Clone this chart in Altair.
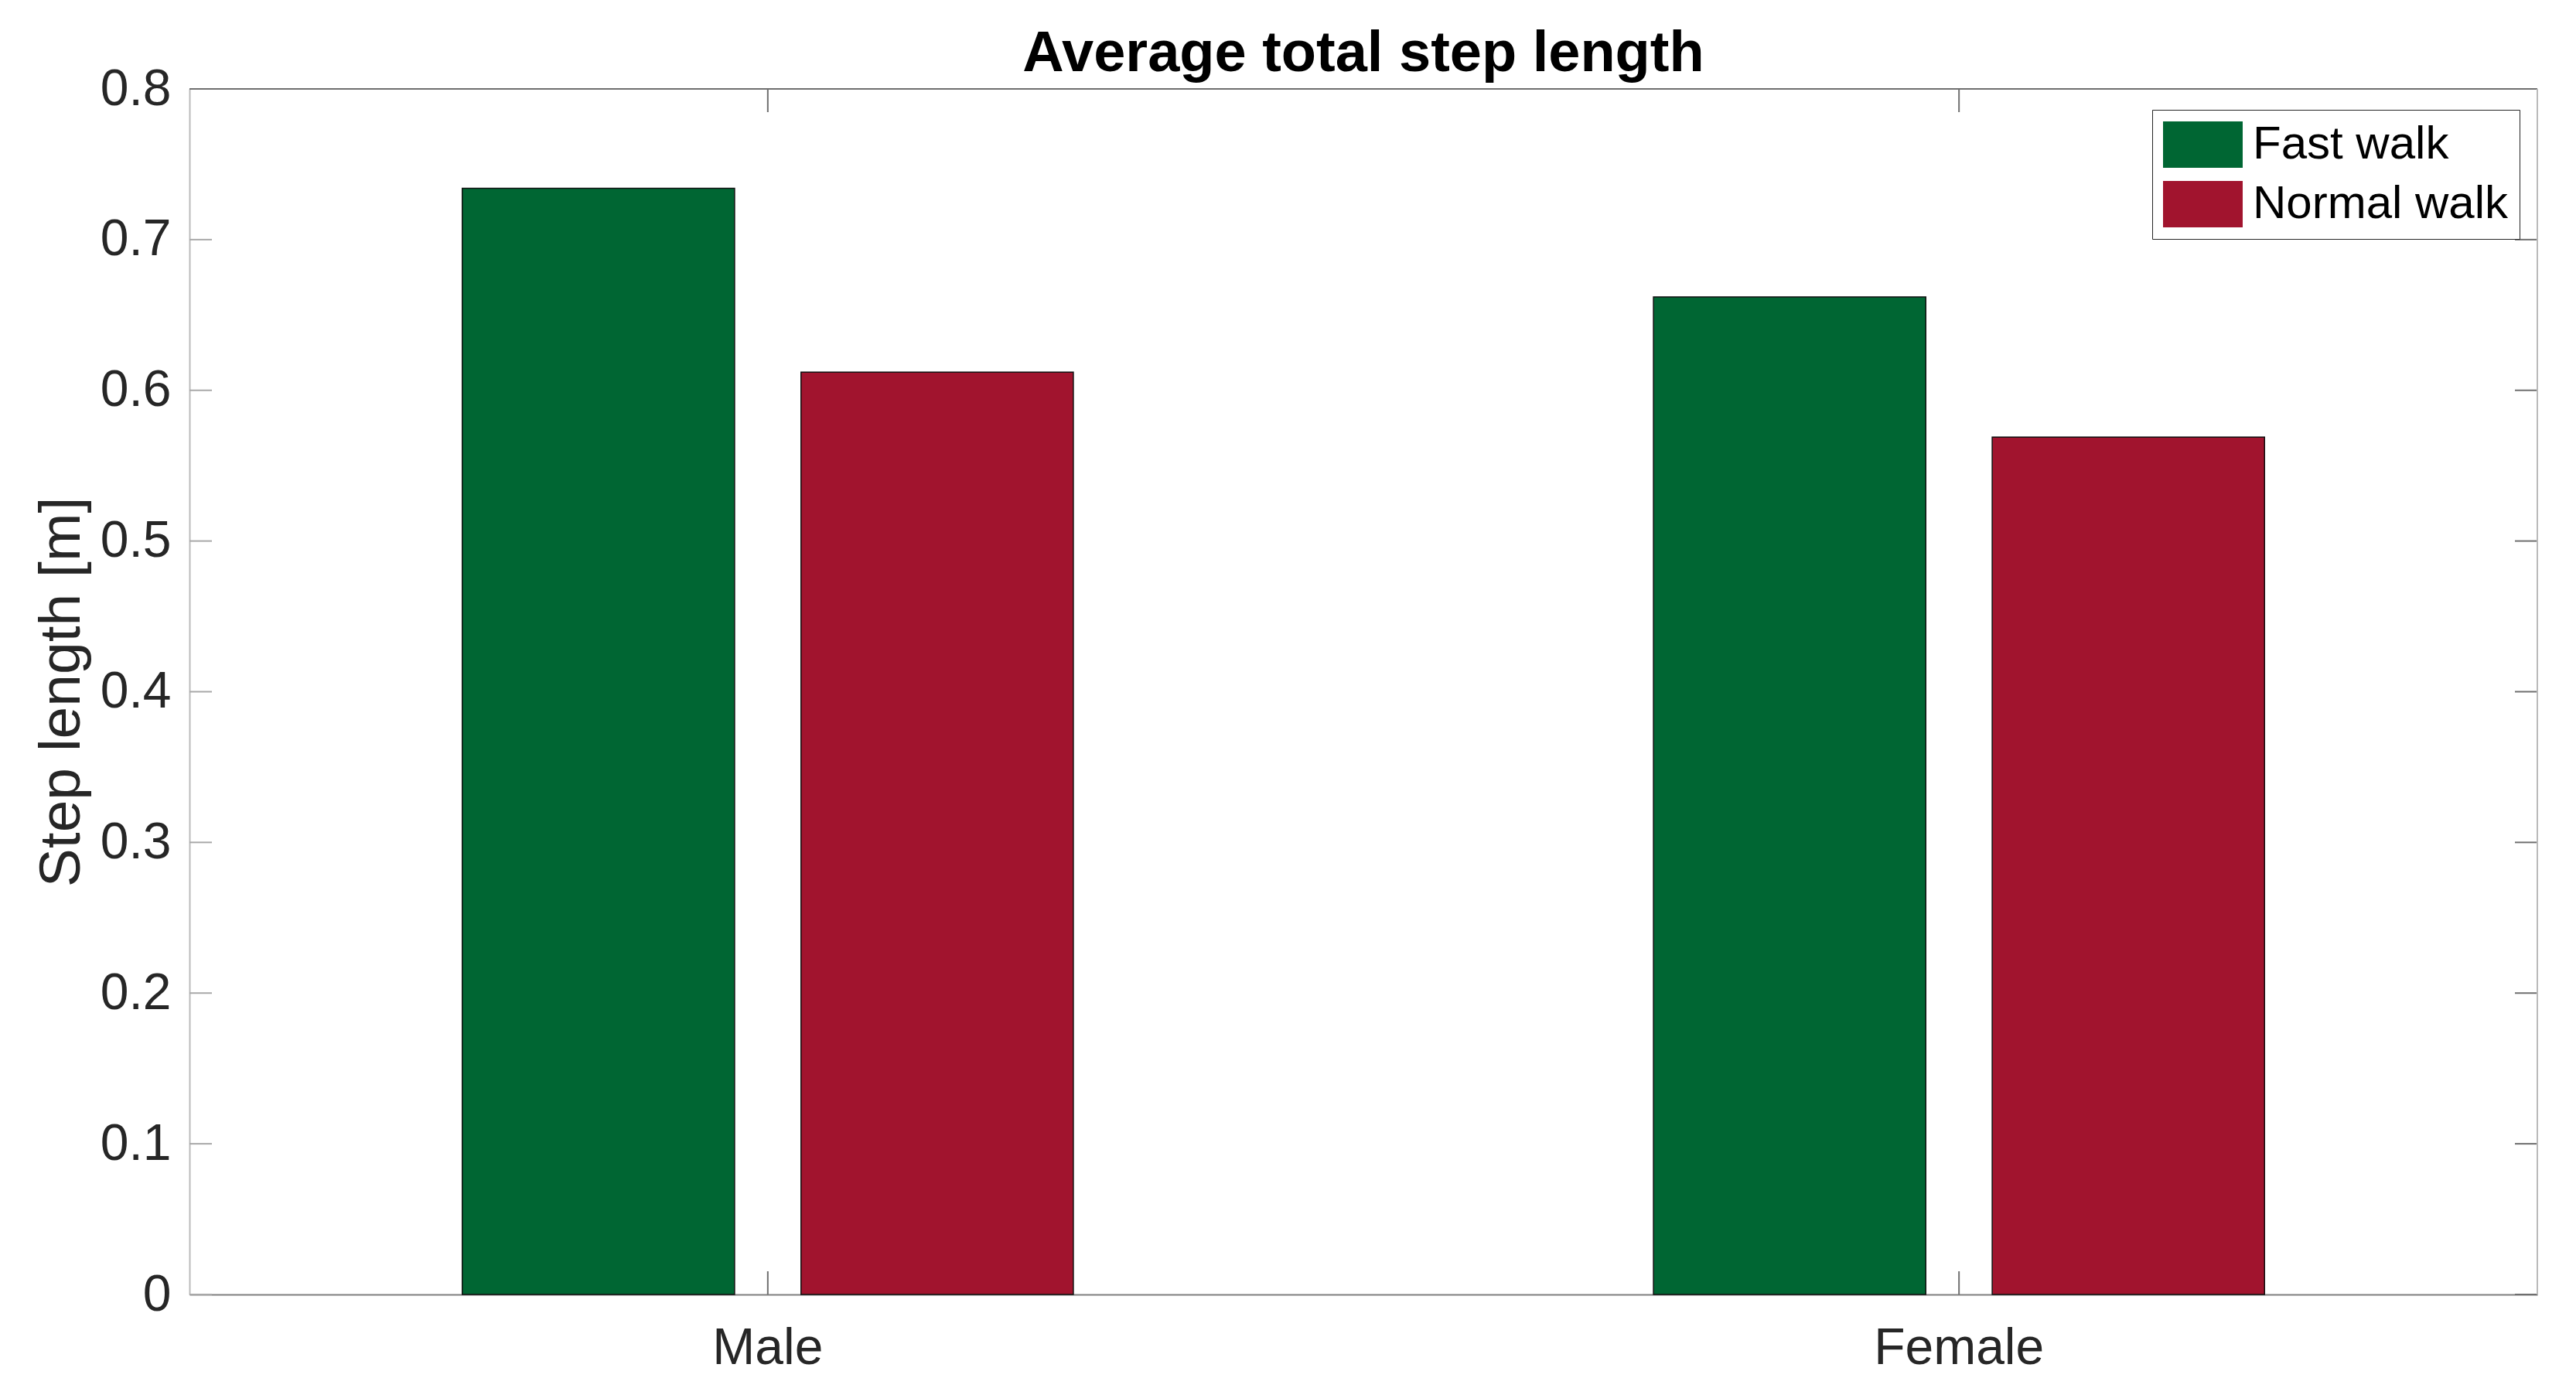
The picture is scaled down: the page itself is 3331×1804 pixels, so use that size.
import altair as alt
import pandas as pd

# ---- data ----
groups = ["Male", "Female"]
series = ["Fast walk", "Normal walk"]
fast_walk = [0.734, 0.662]
normal_walk = [0.612, 0.569]
y_ticks = [0, 0.1, 0.2, 0.3, 0.4, 0.5, 0.6, 0.7, 0.8]
colors = ["#006633", "#A1142E"]

W, H = 3036, 1559
FONT = "Liberation Sans"

rows = []
for g, f, n in zip(groups, fast_walk, normal_walk):
    rows.append({"group": g, "speed": series[0], "value": f})
    rows.append({"group": g, "speed": series[1], "value": n})
df = pd.DataFrame(rows)
df_yt = pd.DataFrame({"value": y_ticks})
df_xt = pd.DataFrame({"group": groups})

x_enc = alt.X(
    "group:N",
    sort=groups,
    scale=alt.Scale(paddingInner=0.487, paddingOuter=0.229),
    axis=alt.Axis(
        title=None, labelAngle=0, labelFontSize=66, labelFont=FONT,
        labelColor="#262626", labelPadding=37, ticks=False, labelLimit=1000,
        domainColor="#7f7f7f", domainWidth=2, grid=False,
    ),
)
y_enc = alt.Y(
    "value:Q",
    scale=alt.Scale(domain=[0, 0.8], nice=False, zero=True),
    axis=alt.Axis(
        values=y_ticks,
        labelExpr="datum.value == 0 ? '0' : format(datum.value, '.1f')",
        labelFontSize=66, labelFont=FONT, labelColor="#262626",
        labelPadding=24, ticks=False, grid=False, labelLimit=1000,
        domainColor="#bbbbbb", domainWidth=2,
        title="Step length [m]", titleFontSize=75, titleFont=FONT,
        titleFontWeight="normal", titleColor="#262626",
        titleAngle=270, titleAlign="center", titleBaseline="alphabetic",
        titleX=-143, titleY=H / 2,
    ),
)

bars = alt.Chart(df).mark_bar(stroke="#111111", strokeWidth=1.5).encode(
    x=x_enc,
    xOffset=alt.XOffset("speed:N", sort=series,
                        scale=alt.Scale(paddingInner=0.196, paddingOuter=0)),
    y=y_enc,
    color=alt.Color(
        "speed:N", sort=series,
        scale=alt.Scale(domain=series, range=colors),
        legend=alt.Legend(
            title=None, orient="none", legendX=2538, legendY=27,
            fillColor="white", strokeColor="#262626", padding=14,
            cornerRadius=0,
            symbolType="M-1,-0.5825L1,-0.5825L1,0.5825L-1,0.5825Z",
            symbolSize=10609, symbolStrokeWidth=0, symbolOpacity=1,
            labelFont=FONT, labelFontSize=60, labelColor="#000000",
            labelOffset=13, rowPadding=15, clipHeight=62, labelLimit=1000,
        ),
    ),
)

tick_color = "#6f6f6f"
yt_left = alt.Chart(df_yt).mark_rule(color="#a8a8a8", strokeWidth=2).encode(
    y=y_enc, x=alt.value(0), x2=alt.value(29))
yt_right = alt.Chart(df_yt).mark_rule(color=tick_color, strokeWidth=2).encode(
    y=y_enc, x=alt.value(W - 29), x2=alt.value(W))
xt_bottom = alt.Chart(df_xt).mark_rule(color=tick_color, strokeWidth=2).encode(
    x=x_enc, y=alt.value(H), y2=alt.value(H - 30))
xt_top = alt.Chart(df_xt).mark_rule(color=tick_color, strokeWidth=2).encode(
    x=x_enc, y=alt.value(0), y2=alt.value(30))
top_line = alt.Chart(df_xt).mark_rule(color="#6f6f6f", strokeWidth=2).encode(
    x=alt.value(0), x2=alt.value(W), y=alt.value(0))
right_line = alt.Chart(df_xt).mark_rule(color="#bbbbbb", strokeWidth=2).encode(
    x=alt.value(W), y=alt.value(0), y2=alt.value(H))

chart = alt.layer(
    yt_left, yt_right, xt_bottom, xt_top, bars, top_line, right_line
).properties(
    width=W, height=H,
    title=alt.Title(
        "Average total step length", fontSize=74, fontWeight="bold",
        font=FONT, color="#000000", anchor="middle", frame="group", offset=6,
        dy=32,
    ),
    autosize=alt.AutoSizeParams(type="none"),
    padding={"left": 237, "top": 107, "right": 30, "bottom": 122},
).configure_view(stroke=None).configure(font=FONT, background="white")

chart.save("out.html", embed_options={"renderer": "svg", "actions": False})
